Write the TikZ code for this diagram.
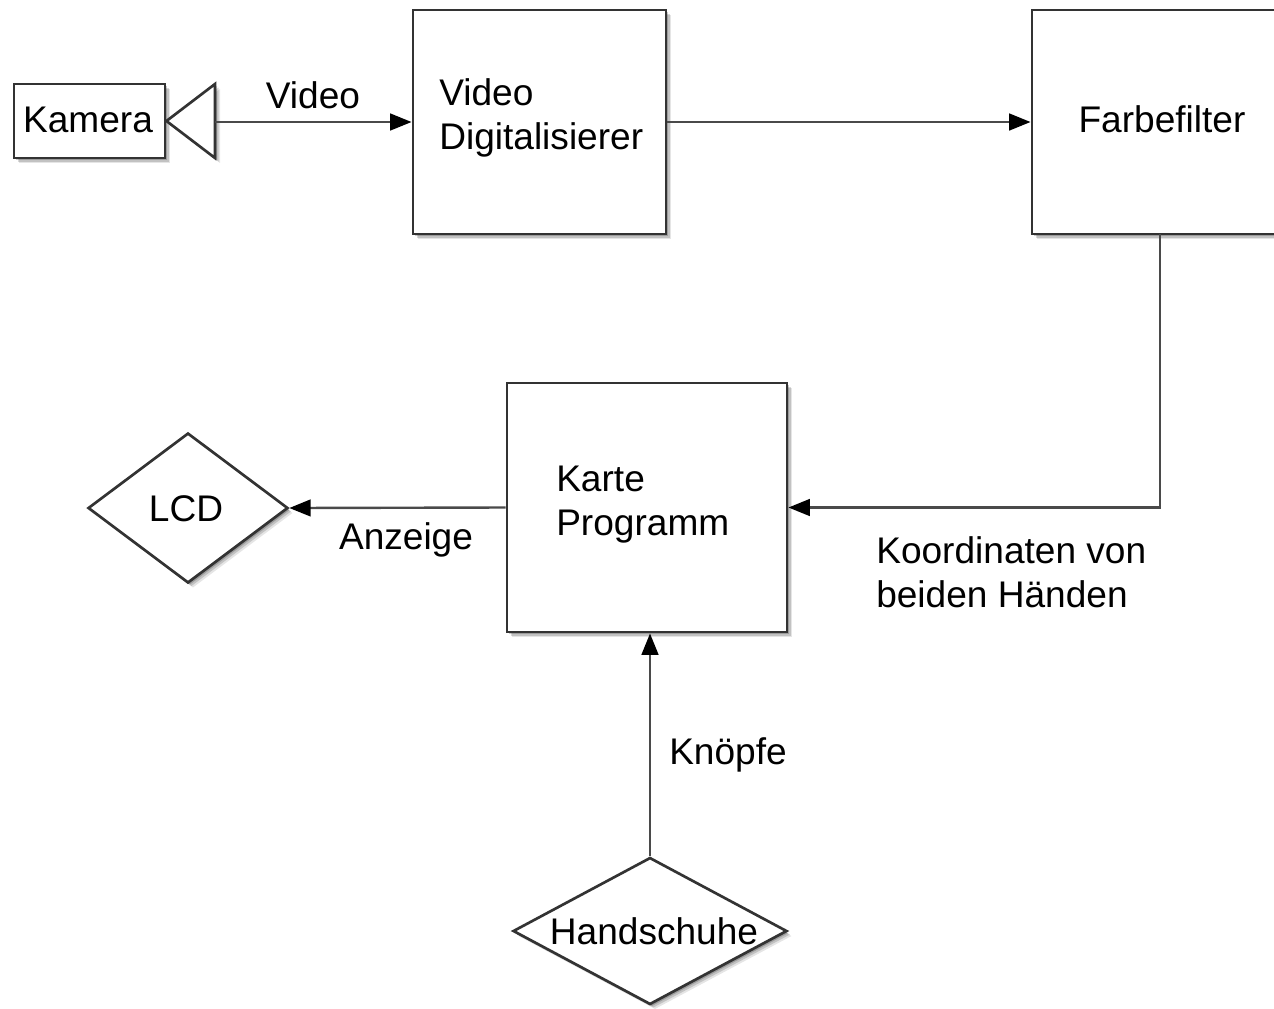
\documentclass[tikz,border=0pt]{standalone}
\usepackage{fontspec}
\setmainfont{Liberation Sans}
\usetikzlibrary{arrows.meta,shapes.geometric,shadows}
\def\u{0.75pt}
\definecolor{boxline}{HTML}{333333}
\definecolor{conline}{HTML}{4A4A4A}
\tikzset{
  softshadow/.style={
    general shadow={shadow xshift=5*\u, shadow yshift=-5*\u, fill=black, opacity=0.10},
    general shadow={shadow xshift=3.5*\u, shadow yshift=-3.5*\u, fill=black, opacity=0.15},
    general shadow={shadow xshift=2*\u, shadow yshift=-2*\u, fill=black, opacity=0.2}},
  blockbox/.style={draw=boxline, line width=2.2pt, fill=white, rectangle, inner sep=0pt, softshadow},
  diam/.style={draw=boxline, line width=2pt, fill=white, diamond, inner sep=0pt, softshadow},
  txt/.style={inner sep=0pt, font=\fontsize{27.8}{33}\selectfont, text=black},
  conn/.style={draw=conline, line width=1.8pt, -{Triangle[length=16pt,width=12.5pt,fill=black,color=black]}},
  plainconn/.style={draw=conline, line width=1.8pt}
}
\begin{document}
\begin{tikzpicture}[x=\u, y=-\u]
\useasboundingbox (0,0) rectangle (1274,1008);
\fill[white] (0,0) rectangle (1274,1008);
% boxes
\node[blockbox, minimum width=151*\u, minimum height=74*\u] (kam) at (89.5,121) {};
\coordinate (triA) at (215,84);
\coordinate (triB) at (215,158);
\coordinate (triM) at (215,122);
\filldraw[draw=boxline, fill=white, line width=2pt, line join=miter, softshadow] (kam.east) -- (triA) -- (triB) -- cycle;
\node[blockbox, minimum width=253*\u, minimum height=224*\u] (vd) at (539.5,122) {};
\node[blockbox, minimum width=260*\u, minimum height=224*\u] (fb) at (1162,122) {};
\node[blockbox, minimum width=280*\u, minimum height=249*\u] (kp) at (647,507.5) {};
\node[diam, minimum width=200*\u, minimum height=150*\u] (lcd) at (188,508) {};
\node[diam, minimum width=274*\u, minimum height=147*\u] (hand) at (650,931) {};
% texts
\node[txt] (kamt) at (88,120) {Kamera};
\node[txt, align=left, anchor=west] (vdt) at (439,118) {Video\\Digitalisierer};
\node[txt] (fbt) at (1162,119) {Farbefilter};
\node[txt, align=left, anchor=west] (kpt) at (556,505) {Karte\\Programm};
\node[txt] (lcdt) at (186,509) {LCD};
\node[txt] (handt) at (654,931) {Handschuhe};
% connectors
\draw[conn] (triM) -- (vd.west |- triM);
\draw[conn] (vd.east) -- (fb.west);
\coordinate (fbdown) at (1160,234);
\draw[conn] (fbdown) -- (fbdown |- kp.east) -- (kp.east);
\draw[conn] (kp.west) -- (lcd.east);
\draw[conn] (hand.north) -- (hand.north |- kp.south);
% labels
\node[txt] (lvideo) at (313,95) {Video};
\node[txt] (lanz) at (406,540) {Anzeige};
\node[txt, align=left, anchor=west] (lkoord) at (876,572) {Koordinaten von\\beiden Händen};
\node[txt] (lknoepfe) at (728,755) {Knöpfe};
\end{tikzpicture}
\end{document}
